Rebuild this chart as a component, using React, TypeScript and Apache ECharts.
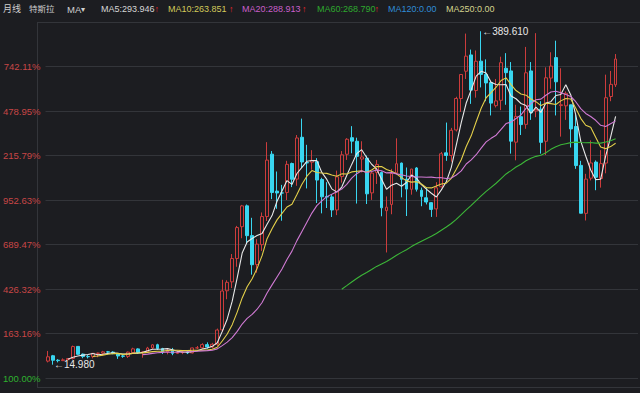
import React, { useEffect, useRef } from 'react';
import * as echarts from 'echarts';

// Monthly candles, 2010-06 .. 2019-12
const categories = [
  '2010-06', '2010-07', '2010-08', '2010-09', '2010-10', '2010-11', '2010-12',
  '2011-01', '2011-02', '2011-03', '2011-04', '2011-05', '2011-06', '2011-07', '2011-08', '2011-09', '2011-10', '2011-11', '2011-12',
  '2012-01', '2012-02', '2012-03', '2012-04', '2012-05', '2012-06', '2012-07', '2012-08', '2012-09', '2012-10', '2012-11', '2012-12',
  '2013-01', '2013-02', '2013-03', '2013-04', '2013-05', '2013-06', '2013-07', '2013-08', '2013-09', '2013-10', '2013-11', '2013-12',
  '2014-01', '2014-02', '2014-03', '2014-04', '2014-05', '2014-06', '2014-07', '2014-08', '2014-09', '2014-10', '2014-11', '2014-12',
  '2015-01', '2015-02', '2015-03', '2015-04', '2015-05', '2015-06', '2015-07', '2015-08', '2015-09', '2015-10', '2015-11', '2015-12',
  '2016-01', '2016-02', '2016-03', '2016-04', '2016-05', '2016-06', '2016-07', '2016-08', '2016-09', '2016-10', '2016-11', '2016-12',
  '2017-01', '2017-02', '2017-03', '2017-04', '2017-05', '2017-06', '2017-07', '2017-08', '2017-09', '2017-10', '2017-11', '2017-12',
  '2018-01', '2018-02', '2018-03', '2018-04', '2018-05', '2018-06', '2018-07', '2018-08', '2018-09', '2018-10', '2018-11', '2018-12',
  '2019-01', '2019-02', '2019-03', '2019-04', '2019-05', '2019-06', '2019-07', '2019-08', '2019-09', '2019-10', '2019-11', '2019-12',
];

const opens = [
  19.0, 25.0, 20.0, 19.5, 20.6, 21.95, 35.5,
  26.84, 24.1, 23.95, 27.8, 27.9, 29.4, 29.1, 27.4, 24.8, 24.3, 28.4, 32.7,
  28.9, 29.4, 33.8, 37.4, 33.1, 29.5, 31.3, 27.7, 28.5, 29.3, 28.2, 33.8,
  34.0, 37.5, 34.8, 38.0, 54.0, 98.0, 108.0, 134.3, 170.0, 193.4, 160.0, 127.5,
  149.8, 181.5, 251.5, 210.0, 208.0, 208.5, 241.0, 223.5, 270.5, 242.0, 242.5, 243.0,
  223.1, 203.9, 203.5, 188.8, 226.3, 251.4, 270.0, 266.0, 246.0, 247.0, 208.0, 231.0,
  231.0, 188.0, 195.0, 230.5, 241.5, 223.5, 212.0, 236.0, 211.0, 202.5, 197.0, 190.0,
  214.9, 253.0, 250.0, 278.7, 314.0, 344.7, 363.0, 323.0, 356.0, 341.0, 332.0, 306.0,
  312.0, 348.0, 345.0, 265.0, 293.6, 285.0, 345.0, 300.0, 302.0, 266.0, 337.0, 360.0,
  306.1, 305.8, 306.9, 282.6, 238.9, 185.0, 224.5, 242.6, 224.1, 241.5, 316.3, 329.4,
];

const closes = [
  23.83, 19.94, 19.48, 20.41, 21.84, 35.33, 26.63,
  24.1, 23.89, 27.75, 27.86, 29.4, 29.13, 27.43, 24.74, 24.39, 29.07, 32.73, 28.56,
  29.27, 33.7, 37.24, 33.13, 29.5, 31.29, 27.67, 28.49, 29.28, 28.15, 33.79, 33.87,
  37.51, 34.84, 37.89, 53.9, 97.76, 107.49, 134.28, 169.0, 193.37, 159.94, 127.28, 150.43,
  181.41, 244.81, 208.45, 207.89, 207.77, 240.06, 223.3, 269.7, 242.68, 241.7, 244.52, 222.41,
  203.6, 203.34, 188.77, 226.05, 250.8, 268.26, 266.15, 249.06, 248.4, 206.93, 230.26, 240.01,
  191.2, 191.93, 229.77, 240.76, 223.23, 212.28, 234.79, 212.01, 204.03, 197.73, 189.4, 213.69,
  251.93, 249.99, 278.3, 314.07, 341.01, 361.61, 323.47, 355.9, 341.1, 331.53, 308.85, 311.35,
  354.31, 343.06, 266.13, 293.9, 284.73, 342.95, 298.14, 301.66, 264.77, 337.32, 350.48, 332.8,
  307.02, 319.88, 279.86, 238.69, 185.16, 223.46, 241.61, 225.61, 240.87, 314.92, 329.94, 358.39,
];

const lows = [
  17.54, 14.98, 17.55, 19.05, 20.02, 20.85, 26.0,
  22.2, 22.0, 22.1, 23.3, 25.2, 26.4, 26.7, 21.5, 22.7, 22.5, 27.1, 27.1,
  22.79, 29.2, 32.6, 31.5, 26.9, 26.6, 25.6, 26.9, 26.8, 26.9, 27.6, 32.5,
  33.0, 33.0, 33.3, 36.0, 51.9, 88.5, 101.0, 125.0, 157.0, 151.0, 116.1, 118.3,
  142.8, 176.4, 201.0, 190.1, 176.7, 200.0, 214.5, 216.0, 236.0, 213.0, 234.0, 196.6,
  185.0, 191.0, 180.9, 183.0, 219.5, 245.0, 252.5, 196.0, 231.0, 195.5, 200.1, 218.0,
  181.7, 141.05, 184.0, 230.0, 203.0, 182.0, 206.0, 209.5, 193.0, 195.0, 181.0, 181.0,
  214.0, 244.0, 243.0, 277.0, 299.0, 336.0, 308.0, 315.0, 326.5, 311.0, 295.0, 304.0,
  301.0, 307.0, 252.1, 244.6, 273.0, 280.0, 290.0, 293.0, 252.1, 250.6, 325.0, 295.0,
  271.2, 290.0, 259.0, 235.0, 185.0, 176.99, 222.0, 211.0, 213.9, 230.0, 311.0, 327.0,
];

const highs = [
  30.42, 25.92, 21.2, 22.0, 22.2, 36.42, 35.9,
  27.5, 25.9, 28.0, 28.5, 30.5, 30.4, 30.0, 28.0, 26.8, 29.7, 34.0, 33.4,
  29.95, 35.0, 38.0, 38.5, 33.9, 33.7, 33.8, 31.3, 30.5, 30.2, 34.1, 36.0,
  39.1, 40.0, 39.5, 55.5, 110.33, 109.8, 139.3, 170.9, 194.5, 194.9, 180.0, 156.0,
  186.0, 265.0, 255.0, 232.0, 217.0, 244.0, 242.0, 273.0, 291.42, 262.0, 256.0, 247.0,
  225.0, 220.0, 206.0, 233.0, 255.0, 269.5, 283.0, 270.0, 266.0, 250.0, 232.0, 245.0,
  232.0, 204.0, 235.0, 269.3, 242.0, 236.5, 235.0, 237.0, 214.0, 214.0, 197.5, 220.0,
  254.0, 287.0, 281.0, 316.0, 341.5, 386.99, 369.0, 368.0, 389.61, 358.0, 332.0, 336.0,
  361.0, 365.0, 355.0, 307.0, 305.0, 372.0, 355.0, 387.46, 311.0, 349.0, 366.0, 379.0,
  348.0, 322.0, 307.1, 296.2, 244.0, 229.4, 267.0, 244.5, 256.0, 340.84, 345.0, 364.0,
];

// y ticks (price) and the labels the terminal shows for them
const yTickValues = [0, 50, 100, 150, 200, 250, 300, 350, 400];
const yTickLabels = ['100.00%', '163.16%', '426.32%', '689.47%', '952.63%', '215.79%', '478.95%', '742.11%', ''];

const maPeriods = [5, 10, 20, 60];
const maLegendTexts = ['MA5:293.946', 'MA10:263.851', 'MA20:288.913', 'MA60:268.790', 'MA120:0.00', 'MA250:0.00'];

// ---- styles ----
const BG = '#1c1d21';
const GRID = '#33353a';
const RED = '#cc3c3c';
const CYAN = '#39d6f0';
const LABEL_RED = '#c84646';
const LABEL_GREEN = '#2fb12f';
const FONT = "'Liberation Sans', 'Noto Sans CJK SC', sans-serif";
const MA_COLORS = ['#e8e8e8', '#e3cf4a', '#d07ad4', '#3cb638'];
const MA_LEGEND_COLORS = ['#d6d6d6', '#d2c95a', '#c95fc9', '#2ea82e', '#2f8cd6', '#d3d38c'];
const MA_LEGEND_X = [101, 168, 242, 317, 388, 446];
const MA_ARROW_X = [154.5, 229, 302, 374.5];

function movingAverage(period: number) {
  return closes.map((_, i) => {
    if (i < period - 1) return '-';
    let s = 0;
    for (let k = i - period + 1; k <= i; k++) s += closes[k];
    return +(s / period).toFixed(3);
  });
}

export default function App() {
  const ref = useRef<HTMLDivElement>(null);

  useEffect(() => {
    document.body.style.margin = '0';
    document.body.style.background = BG;
    const chart = echarts.init(ref.current!, null, { renderer: 'svg' });

    let iMax = 0;
    let iMin = 0;
    highs.forEach((h, i) => { if (h > highs[iMax]) iMax = i; });
    lows.forEach((l, i) => { if (l < lows[iMin]) iMin = i; });

    const headerText = (text: string, x: number, fill: string, size = 9) => ({
      type: 'text',
      silent: true,
      style: { text, x, y: 9, fill, font: `${size}px ${FONT}`, verticalAlign: 'middle', textVerticalAlign: 'middle' },
    });

    const graphic: any[] = [
      headerText('月线', 3, '#cfcfcf', 9),
      headerText('特斯拉', 29, '#cfcfcf', 8.5),
      headerText('MA', 67, '#cfcfcf', 9.5),
      headerText('▾', 81, '#cfcfcf', 8),
      ...maLegendTexts.map((t, i) => headerText(t, MA_LEGEND_X[i], MA_LEGEND_COLORS[i])),
      ...MA_ARROW_X.map((x) => headerText('↑', x, '#e8262a', 9)),
      {
        type: 'line', silent: true,
        shape: { x1: 37.5, y1: 22, x2: 37.5, y2: 388 },
        style: { stroke: GRID, lineWidth: 1 },
      },
      {
        type: 'line', silent: true,
        shape: { x1: 37, y1: 387.5, x2: 640, y2: 387.5 },
        style: { stroke: GRID, lineWidth: 1 },
      },
      {
        type: 'line', silent: true,
        shape: { x1: 37, y1: 22.5, x2: 640, y2: 22.5 },
        style: { stroke: GRID, lineWidth: 1 },
      },
    ];

    const option: any = {
      animation: false,
      backgroundColor: BG,
      grid: { left: 40.2, right: 2, top: 22, bottom: 15 },
      xAxis: {
        type: 'category',
        data: categories,
        max: 118,
        boundaryGap: true,
        axisLine: { show: false },
        axisTick: { show: false },
        axisLabel: { show: false },
        splitLine: { show: false },
      },
      yAxis: {
        type: 'value',
        min: yTickValues[0],
        max: yTickValues[yTickValues.length - 1],
        interval: 50,
        axisLine: { show: false },
        axisTick: { show: false },
        splitLine: { show: true, lineStyle: { color: GRID, width: 1 } },
        axisLabel: {
          margin: 5,
          fontSize: 9.5,
          fontFamily: FONT,
          formatter: (v: number) => {
            const idx = yTickValues.indexOf(v);
            return idx >= 0 ? yTickLabels[idx] : '';
          },
          color: (v: any) => (Number(v) === 0 ? LABEL_GREEN : LABEL_RED),
        },
      },
      series: [
        {
          type: 'candlestick',
          data: categories.map((_, i) => [opens[i], closes[i], lows[i], highs[i]]),
          barWidth: 3.3,
          itemStyle: {
            color: 'transparent',
            color0: CYAN,
            borderColor: RED,
            borderColor0: CYAN,
            borderWidth: 1,
          },
          markPoint: {
            symbol: 'circle',
            symbolSize: 0,
            silent: true,
            label: {
              show: true,
              position: 'right',
              distance: 1,
              color: '#e8e8e8',
              fontSize: 10,
              fontFamily: FONT,
              formatter: (p: any) => p.name,
            },
            data: [
              { name: '←' + highs[iMax].toFixed(3), coord: [categories[iMax], highs[iMax]] },
              { name: '←' + lows[iMin].toFixed(3), coord: [categories[iMin], lows[iMin]] },
            ],
          },
        },
        ...maPeriods.map((p, k) => ({
          type: 'line',
          name: 'MA' + p,
          data: movingAverage(p),
          symbol: 'none',
          showSymbol: false,
          smooth: false,
          silent: true,
          lineStyle: { width: 1.1, color: MA_COLORS[k] },
          z: 3,
        })),
      ],
      graphic,
    };

    chart.setOption(option);
    return () => chart.dispose();
  }, []);

  return (
    <div
      ref={ref}
      style={{ position: 'fixed', left: 0, top: 0, width: 640, height: 393 }}
    />
  );
}
